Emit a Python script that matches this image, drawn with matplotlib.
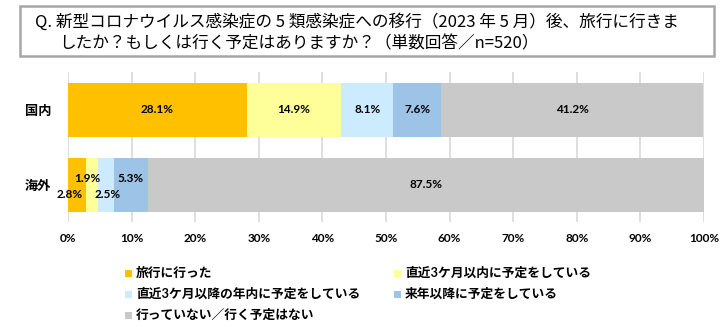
import matplotlib
matplotlib.use("Agg")
import matplotlib.pyplot as plt
from matplotlib.patches import Rectangle

categories = ["国内", "海外"]
series_names = ["旅行に行った", "直近3ケ月以内に予定をしている", "直近3ケ月以降の年内に予定をしている",
                "来年以降に予定をしている", "行っていない／行く予定はない"]
domestic = [28.1, 14.9, 8.1, 7.6, 41.2]
overseas = [2.8, 1.9, 2.5, 5.3, 87.5]
tick_values = [0, 10, 20, 30, 40, 50, 60, 70, 80, 90, 100]
tick_labels = [f"{v}%" for v in tick_values]
title_line1 = "Q. 新型コロナウイルス感染症の 5 類感染症への移行（2023 年 5 月）後、旅行に行きま"
title_line2 = "したか？もしくは行く予定はありますか？（単数回答／n=520）"

colors = ["#FFC000", "#FFFF99", "#CCEBFF", "#9DC3E6", "#C9C9C9"]

W, H = 727, 327
fig = plt.figure(figsize=(W / 100, H / 100), dpi=100)
fam = ["Lato", "Noto Sans CJK JP", "DejaVu Sans"]
cjk = ["Noto Sans CJK JP", "DejaVu Sans"]

def fx(px):
    return px / W

def fy(py):
    return 1 - py / H

ax = fig.add_axes([fx(68), fy(222), fx(704) - fx(68), fy(72) - fy(222)])

data = [domestic, overseas]
ypos = [0, 1]
bar_h = 0.72
# overseas label offsets in points (dx, dy)
ov_offsets = [(-5, -7), (-3, 4), (1, -7), (0, 4), (0, 0)]
for yi, vals in zip(ypos, data):
    left = 0
    for k, v in enumerate(vals):
        ax.barh(yi, v, left=left, height=bar_h, color=colors[k], zorder=2, linewidth=0)
        cx = left + v / 2
        if yi == 0:
            ax.text(cx, yi, f"{v}%", ha="center", va="center", fontsize=8.5,
                    fontweight="bold", family=fam, zorder=3)
        else:
            dx, dy = ov_offsets[k]
            ax.annotate(f"{v}%", (cx, yi), xytext=(dx, dy), textcoords="offset points",
                        ha="center", va="center", fontsize=8.5, fontweight="bold",
                        family=fam, zorder=3)
        left += v

ax.set_xlim(0, 100)
ax.set_ylim(1.5, -0.5)
ax.set_xticks(tick_values)
ax.set_xticklabels(tick_labels, fontsize=8.5, fontweight="bold", family=fam)
ax.set_yticks(ypos)
ax.set_yticklabels(categories, fontsize=9.5, fontweight="bold", family=cjk)
ax.tick_params(axis="x", length=0, pad=8)
ax.tick_params(axis="y", length=0, pad=12)
for s in ax.spines.values():
    s.set_visible(False)
ax.grid(axis="x", color="#D9D9D9", linewidth=1.2, zorder=0)
ax.set_axisbelow(True)

# title box
fig.patches.append(Rectangle((fx(20), fy(56)), fx(714) - fx(20), fy(6) - fy(56),
                             transform=fig.transFigure, fill=False,
                             edgecolor="#A6A6A6", linewidth=1.8))
fig.text(fx(35), fy(22), title_line1, fontsize=12, family=cjk, va="center", ha="left")
fig.text(fx(59), fy(44), title_line2, fontsize=12, family=cjk, va="center", ha="left")

# legend
legend_pos = [(125, 273), (394, 273), (125, 294), (394, 294), (125, 315)]
for k, (px, py) in enumerate(legend_pos):
    fig.patches.append(Rectangle((fx(px), fy(py + 4)), fx(7), 7 / H,
                                 transform=fig.transFigure, facecolor=colors[k],
                                 edgecolor="none"))
    fig.text(fx(px + 11), fy(py), series_names[k], fontsize=9.2, fontweight="bold",
             family=fam, va="center", ha="left")

fig.savefig("out.png", dpi=100)
